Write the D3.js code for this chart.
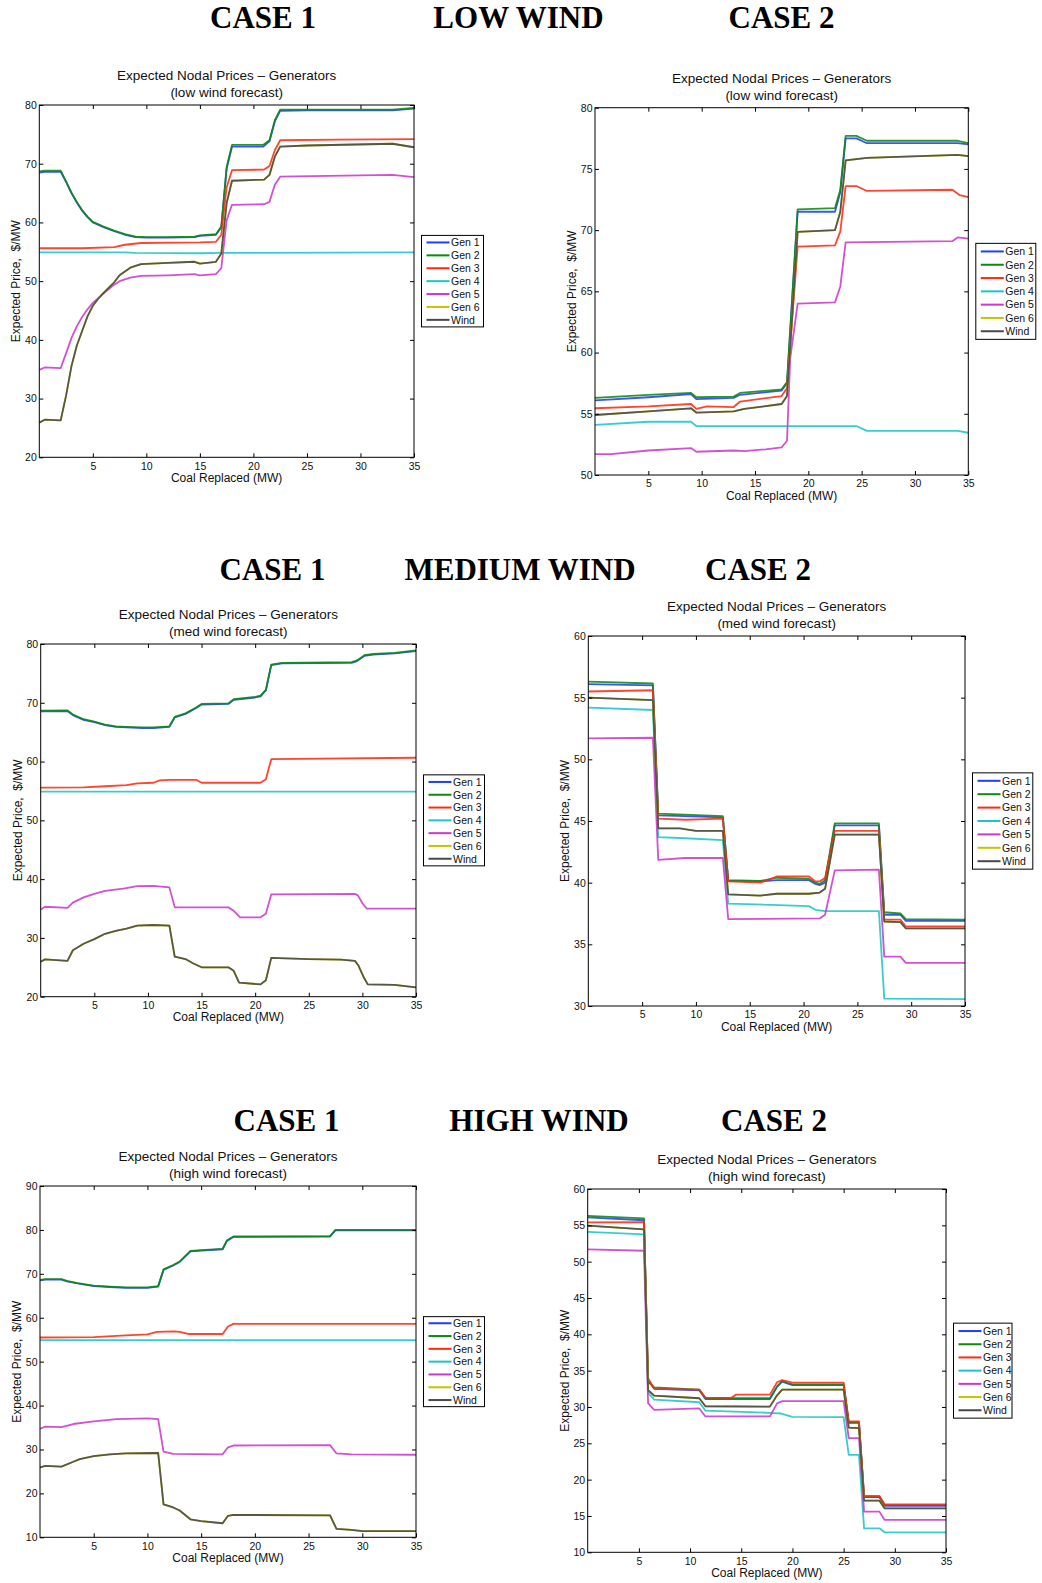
<!DOCTYPE html>
<html>
<head>
<meta charset="utf-8">
<script src="https://cdn.jsdelivr.net/npm/d3@7"></script>
<style>
  body { margin: 0; background: #fff; }
  svg { display: block; }
  text { font-family: "Liberation Sans", Arial, sans-serif; fill: #111; }
  .head { font-family: "Liberation Serif", "Times New Roman", serif; font-weight: bold; font-size: 31px; fill: #000; }
  .ptitle { font-size: 13.5px; }
  .alabel { font-size: 12px; white-space: pre; }
  .tick text { font-size: 10.5px; fill: #111; }
  .leg text { font-size: 10.5px; }
</style>
</head>
<body>
<svg id="fig" width="1042" height="1583"></svg>
<script>
// ---------- labels ----------
const seriesNames = ["Gen 1", "Gen 2", "Gen 3", "Gen 4", "Gen 5", "Gen 6", "Wind"];
const rowHeadings = [
  ["CASE 1", "LOW WIND", "CASE 2"],
  ["CASE 1", "MEDIUM WIND", "CASE 2"],
  ["CASE 1", "HIGH WIND", "CASE 2"]
];
const forecastLabels = ["(low wind forecast)", "(med wind forecast)", "(high wind forecast)"];
const xTicks = [5, 10, 15, 20, 25, 30, 35];
const yTicks20to80 = [20, 30, 40, 50, 60, 70, 80];
const yTicks50to80 = [50, 55, 60, 65, 70, 75, 80];
const yTicks30to60 = [30, 35, 40, 45, 50, 55, 60];
const yTicks10to90 = [10, 20, 30, 40, 50, 60, 70, 80, 90];
const yTicks10to60 = [10, 15, 20, 25, 30, 35, 40, 45, 50, 55, 60];

// ---------- low wind, case 1: [coal replaced MW, price $/MW] ----------
const lowC1Gen1 = [[0,68.5],[0.5,68.6],[2,68.6],[2.5,66.9],[3,65.0],[3.5,63.4],[4,62.0],[4.5,60.9],[5,60.0],[6,59.2],[7,58.5],[8,57.9],[9,57.5],[10,57.4],[12,57.4],[14.5,57.5],[15,57.7],[16.5,57.9],[17,59.2],[17.5,69.2],[18,72.9],[20.9,72.9],[21.5,73.8],[22,77.2],[22.5,79.0],[25,79.1],[33,79.1],[35,79.4]];
const lowC1Gen2 = [[0,68.7],[0.5,68.8],[2,68.8],[2.5,67.0],[3,65.1],[3.5,63.5],[4,62.1],[4.5,61.0],[5,60.1],[6,59.3],[7,58.6],[8,58.0],[9,57.6],[10,57.5],[12,57.5],[14.5,57.6],[15,57.8],[16.5,58.0],[17,59.3],[17.5,69.4],[18,73.2],[20.9,73.2],[21.5,74.0],[22,77.4],[22.5,79.2],[25,79.2],[33,79.2],[35,79.5]];
const lowC1Gen3 = [[0,55.6],[4,55.6],[7,55.8],[8,56.2],[9.5,56.5],[15,56.6],[16.5,56.7],[17,57.9],[17.5,66.0],[18,68.9],[21,69.0],[21.5,69.6],[22,72.3],[22.5,74.0],[28,74.1],[35,74.2]];
const lowC1Gen4 = [[0,54.9],[8,54.9],[9,54.8],[15,54.75],[17,54.8],[35,54.9]];
const lowC1Gen5 = [[0,34.9],[0.5,35.3],[2,35.2],[2.5,37.7],[3,40.3],[3.5,42.3],[4,43.9],[4.5,45.2],[5,46.3],[6,47.9],[7,49.4],[7.5,50.0],[8.5,50.6],[9.5,50.9],[12,51.0],[14.5,51.2],[15,51.0],[16.5,51.2],[17,52.2],[17.5,60.4],[18,63.0],[21,63.1],[21.5,63.5],[22,66.4],[22.5,67.8],[33,68.1],[35,67.7]];
const lowC1Wind = [[0,25.9],[0.5,26.4],[2,26.3],[2.5,30.5],[3,35.5],[3.5,39.0],[4,41.5],[4.5,44.0],[5,45.8],[5.5,47.0],[6,48.0],[7,49.8],[7.5,51.0],[8.5,52.3],[9.5,52.9],[12,53.1],[14.5,53.3],[15,53.0],[16.5,53.3],[17,54.7],[17.5,63.3],[18,67.1],[21,67.3],[21.5,68.1],[22,71.2],[22.5,72.9],[25,73.1],[33,73.4],[35,72.8]];
const lowC1Gen6 = lowC1Wind; // Gen 6 runs under the Wind trace

// ---------- low wind, case 2 ----------
const lowC2Gen1 = [[0,56.1],[5,56.35],[9,56.6],[9.5,56.2],[13,56.3],[13.6,56.55],[17.5,56.9],[18,57.5],[19,71.5],[22.5,71.5],[23,73.1],[23.5,77.5],[24.5,77.5],[25.5,77.1],[34,77.1],[35,77.0]];
const lowC2Gen2 = [[0,56.3],[5,56.55],[9,56.7],[9.5,56.35],[13,56.4],[13.6,56.7],[17.5,57.0],[18,57.6],[19,71.7],[22.5,71.8],[23,73.3],[23.5,77.7],[24.5,77.7],[25.5,77.3],[34,77.3],[35,77.1]];
const lowC2Gen3 = [[0,55.45],[5,55.6],[9,55.8],[9.5,55.4],[10.5,55.6],[13,55.55],[13.6,56.0],[17.5,56.45],[18,57.1],[19,68.65],[22.5,68.75],[23,69.9],[23.5,73.6],[24.5,73.6],[25.5,73.2],[33.5,73.3],[34.2,72.85],[35,72.7]];
const lowC2Gen4 = [[0,54.1],[5,54.35],[9,54.35],[9.5,54.0],[24.5,54.0],[25.5,53.6],[34,53.6],[35,53.45]];
const lowC2Gen5 = [[0,51.7],[1.5,51.7],[5,52.0],[9,52.2],[9.5,51.9],[13,52.0],[14,51.95],[16,52.1],[17.5,52.25],[18,52.8],[18.3,59.5],[19,64.0],[22.5,64.1],[23,65.4],[23.5,69.0],[33.5,69.1],[34,69.4],[35,69.3]];
const lowC2Wind = [[0,54.9],[5,55.2],[9,55.45],[9.5,55.1],[13,55.2],[14,55.4],[17.5,55.8],[18,56.45],[19,69.85],[22.5,70.0],[23,71.5],[23.5,75.7],[24.5,75.8],[25.5,75.9],[34,76.15],[35,76.05]];
const lowC2Gen6 = lowC2Wind;

// ---------- medium wind, case 1 ----------
const medC1Gen1 = [[0,68.55],[2.5,68.6],[3,67.9],[4,67.1],[5,66.7],[6,66.2],[7,65.9],[8,65.8],[9.5,65.7],[10.5,65.7],[12,65.9],[12.5,67.5],[13.5,68.1],[14.5,69.1],[15,69.7],[17.5,69.8],[18,70.5],[20,70.9],[20.5,71.1],[21,72.1],[21.5,76.4],[22.5,76.7],[29,76.8],[29.5,77.1],[30.2,78.0],[31,78.2],[33,78.4],[35,78.8]];
const medC1Gen2 = [[0,68.65],[2.5,68.7],[3,68.0],[4,67.2],[5,66.8],[6,66.3],[7,66.0],[8,65.9],[9.5,65.8],[10.5,65.8],[12,66.0],[12.5,67.6],[13.5,68.2],[14.5,69.2],[15,69.8],[17.5,69.9],[18,70.6],[20,71.0],[20.5,71.2],[21,72.2],[21.5,76.5],[22.5,76.8],[29,76.9],[29.5,77.2],[30.2,78.1],[31,78.3],[33,78.5],[35,78.9]];
const medC1Gen3 = [[0,55.55],[4,55.6],[6,55.8],[8,56.0],[9,56.3],[10.5,56.4],[11.1,56.8],[12,56.9],[14.5,56.9],[15,56.4],[20.5,56.4],[21,57.0],[21.5,60.4],[35,60.65]];
const medC1Gen4 = [[0,54.9],[35,54.9]];
const medC1Gen5 = [[0,34.85],[0.4,35.3],[2.5,35.1],[3,36.0],[4,36.9],[5,37.5],[6,38.0],[7.7,38.4],[9,38.8],[10.5,38.85],[12,38.6],[12.5,35.2],[17.5,35.2],[18,34.6],[18.6,33.5],[20.5,33.5],[21,34.1],[21.5,37.4],[29.3,37.5],[29.6,37.2],[30,35.9],[30.4,35.0],[35,35.0]];
const medC1Wind = [[0,25.95],[0.4,26.35],[2.5,26.1],[3,27.9],[4,29.0],[5,29.8],[6,30.7],[7,31.2],[8,31.6],[9,32.1],[10.5,32.2],[12,32.1],[12.5,26.8],[13.5,26.4],[14.2,25.7],[15,25.0],[17.5,25.0],[18,24.4],[18.5,22.4],[20.5,22.1],[21,22.8],[21.5,26.6],[25,26.4],[28,26.3],[29.3,26.1],[29.6,25.4],[30.1,23.4],[30.5,22.1],[33,22.0],[35,21.6]];
const medC1Gen6 = medC1Wind;

// ---------- medium wind, case 2 ----------
const medC2Gen1 = [[0,56.1],[6,56.0],[6.5,45.45],[9,45.4],[12.5,45.3],[13,40.15],[16,40.1],[17.5,40.2],[20.5,40.2],[21.1,39.9],[21.5,39.8],[22,40.0],[22.9,44.65],[27,44.65],[27.5,37.4],[29,37.4],[29.5,36.9],[35,36.9]];
const medC2Gen2 = [[0,56.3],[6,56.15],[6.5,45.6],[12.5,45.4],[13,40.2],[16,40.15],[17,40.3],[17.5,40.4],[20.5,40.3],[21.1,40.0],[21.5,39.9],[22,40.2],[22.9,44.8],[27,44.8],[27.5,37.6],[29,37.5],[29.5,37.05],[35,37.0]];
const medC2Gen3 = [[0,55.5],[6,55.6],[6.5,45.2],[9,45.1],[12.5,45.2],[13,40.1],[16,40.0],[17.5,40.5],[20.5,40.5],[21.1,40.1],[21.5,40.1],[22,40.4],[22.9,44.2],[27,44.2],[27.5,37.0],[29,37.0],[29.5,36.45],[35,36.45]];
const medC2Gen4 = [[0,54.2],[6,54.0],[6.5,43.7],[9,43.6],[12.5,43.45],[13,38.3],[17,38.2],[20.5,38.1],[21.1,37.8],[22,37.7],[27,37.7],[27.5,30.6],[35,30.55]];
const medC2Gen5 = [[0,51.7],[6,51.75],[6.5,41.85],[9,42.0],[12.5,42.0],[13,37.05],[21.5,37.1],[22,37.4],[22.9,41.0],[27,41.05],[27.5,34.0],[29,34.0],[29.5,33.5],[35,33.5]];
const medC2Wind = [[0,55.0],[6,54.8],[6.5,44.4],[8.5,44.4],[10,44.2],[12.5,44.2],[13,39.05],[16,38.95],[17.5,39.1],[20.5,39.1],[21.5,39.2],[22,39.5],[22.9,43.9],[27,43.9],[27.5,36.85],[29,36.8],[29.5,36.3],[35,36.3]];
const medC2Gen6 = medC2Wind;

// ---------- high wind, case 1 ----------
const highC1Gen1 = [[0,68.5],[0.5,68.7],[2,68.7],[2.5,68.3],[3.5,67.8],[5,67.2],[6.5,67.0],[8,66.8],[10,66.8],[11,67.1],[11.5,70.9],[12.4,71.9],[13,72.7],[14,75.1],[15,75.3],[17,75.6],[17.4,77.5],[18,78.4],[27,78.5],[27.5,79.9],[35,79.9]];
const highC1Gen2 = [[0,68.6],[0.5,68.8],[2,68.8],[2.5,68.4],[3.5,67.9],[5,67.3],[6.5,67.1],[8,66.9],[10,66.9],[11,67.2],[11.5,71.0],[12.4,72.0],[13,72.8],[14,75.2],[15,75.4],[17,75.7],[17.4,77.6],[18,78.5],[27,78.6],[27.5,80.0],[35,80.0]];
const highC1Gen3 = [[0,55.5],[5,55.6],[8,56.0],[10,56.2],[10.9,56.8],[12.5,56.9],[13,56.8],[13.8,56.3],[17,56.3],[17.5,58.0],[18,58.6],[35,58.6]];
const highC1Gen4 = [[0,54.9],[35,54.9]];
const highC1Gen5 = [[0,34.75],[0.5,35.2],[2,35.1],[3.1,35.8],[5,36.4],[7.1,36.9],[10,37.1],[11,36.9],[11.5,29.5],[12.4,29.0],[17,28.9],[17.5,30.5],[18,30.9],[27,31.0],[27.6,29.1],[29,28.9],[35,28.8]];
const highC1Wind = [[0,25.9],[0.5,26.25],[2,26.1],[3.1,27.2],[3.7,27.8],[5,28.5],[6.5,28.9],[8,29.1],[11,29.2],[11.5,17.5],[12.4,16.8],[13,16.1],[14,14.1],[15,13.7],[17,13.2],[17.5,14.9],[18,15.1],[27,15.0],[27.6,11.9],[29,11.7],[30,11.4],[35,11.4]];
const highC1Gen6 = highC1Wind;

// ---------- high wind, case 2 ----------
const highC2Gen1 = [[0,56.1],[5.5,55.7],[5.9,33.6],[6.5,32.5],[10.9,32.3],[11.5,31.1],[17.8,31.1],[18.5,32.8],[19,33.5],[20,33.0],[25,33.0],[25.5,27.8],[26.5,27.8],[27,17.6],[28.5,17.6],[29,16.4],[35,16.4]];
const highC2Gen2 = [[0,56.3],[5.5,55.95],[5.9,33.5],[6.5,32.7],[10.9,32.4],[11.5,31.2],[17.8,31.2],[18.5,32.8],[19,33.6],[19.6,33.25],[20,33.1],[25,33.1],[25.5,27.9],[26.5,27.9],[27,17.65],[28.5,17.6],[29,16.5],[35,16.5]];
const highC2Gen3 = [[0,55.4],[5.5,55.45],[5.9,33.95],[6.5,32.5],[10.9,32.4],[11.5,31.3],[14,31.25],[14.5,31.7],[17.8,31.7],[18.5,33.4],[19,33.7],[20,33.35],[25,33.35],[25.5,28.0],[26.5,28.0],[27,17.75],[28.5,17.75],[29,16.6],[35,16.6]];
const highC2Gen4 = [[0,54.1],[5.5,53.75],[5.9,31.9],[6.5,31.0],[10.9,30.65],[11.5,29.5],[17.8,29.2],[18.9,29.1],[20,28.65],[25,28.6],[25.5,23.4],[26.5,23.4],[27,13.3],[28.5,13.3],[29,12.75],[35,12.75]];
const highC2Gen5 = [[0,51.7],[5.5,51.5],[5.9,30.5],[6.5,29.6],[10.9,29.8],[11.5,28.7],[17.8,28.7],[18.5,30.5],[19,30.8],[25,30.8],[25.5,25.7],[26.5,25.7],[27,15.6],[28.5,15.6],[29,14.45],[35,14.45]];
const highC2Wind = [[0,54.95],[5.5,54.45],[5.9,32.3],[6.5,31.55],[10.9,31.2],[11.5,30.1],[17.8,30.05],[18.5,31.6],[19,32.4],[25,32.4],[25.5,27.15],[26.5,27.1],[27,17.1],[28.5,17.1],[29,16.05],[35,16.05]];
const highC2Gen6 = highC2Wind;

// ---------- styling ----------
const seriesColors = ["#1f3cff", "#0b8a0b", "#ff2a12", "#1cc6c6", "#cc38cc", "#c4c400", "#484848"];

// panel layout: plot-area edges [left, top, right, bottom]
const panels = [
  { area: [39.3, 105, 414, 457.3],  yDomain: [20, 80], yTicks: yTicks20to80, forecast: 0,
    series: [lowC1Gen1, lowC1Gen2, lowC1Gen3, lowC1Gen4, lowC1Gen5, lowC1Gen6, lowC1Wind], leg: { rowH: 12.9, h: 91.5, w: 62 } },
  { area: [595, 107.7, 968.3, 475],  yDomain: [50, 80], yTicks: yTicks50to80, forecast: 0,
    series: [lowC2Gen1, lowC2Gen2, lowC2Gen3, lowC2Gen4, lowC2Gen5, lowC2Gen6, lowC2Wind], leg: { rowH: 13.3, h: 96, w: 60 } },
  { area: [40.7, 644, 416, 996.7],   yDomain: [20, 80], yTicks: yTicks20to80, forecast: 1,
    series: [medC1Gen1, medC1Gen2, medC1Gen3, medC1Gen4, medC1Gen5, medC1Gen6, medC1Wind], leg: { rowH: 12.8, h: 91, w: 61 } },
  { area: [588.3, 636, 965, 1006],   yDomain: [30, 60], yTicks: yTicks30to60, forecast: 1,
    series: [medC2Gen1, medC2Gen2, medC2Gen3, medC2Gen4, medC2Gen5, medC2Gen6, medC2Wind], leg: { rowH: 13.4, h: 96.3, w: 60.3 } },
  { area: [40, 1186, 416, 1537.3],   yDomain: [10, 90], yTicks: yTicks10to90, forecast: 2,
    series: [highC1Gen1, highC1Gen2, highC1Gen3, highC1Gen4, highC1Gen5, highC1Gen6, highC1Wind], leg: { rowH: 12.8, h: 90, w: 61 } },
  { area: [587.7, 1189, 946, 1552.3], yDomain: [10, 60], yTicks: yTicks10to60, forecast: 2,
    series: [highC2Gen1, highC2Gen2, highC2Gen3, highC2Gen4, highC2Gen5, highC2Gen6, highC2Wind], leg: { rowH: 13.2, h: 95, w: 58.5 } }
];

// row headings: [centre x, baseline y]
const headingPos = [
  [[263, 28], [518.5, 28], [781.5, 28]],
  [[272.5, 580], [520, 580], [758, 580]],
  [[286.5, 1131], [539, 1131], [774, 1131]]
];

const svg = d3.select("#fig");

rowHeadings.forEach((row, r) => {
  row.forEach((label, c) => {
    svg.append("text").attr("class", "head")
      .attr("x", headingPos[r][c][0]).attr("y", headingPos[r][c][1])
      .attr("text-anchor", "middle").text(label);
  });
});

panels.forEach((p, idx) => {
  const [L, T, R, B] = p.area;
  const x = d3.scaleLinear().domain([0, 35]).range([L, R]);
  const y = d3.scaleLinear().domain(p.yDomain).range([B, T]);
  const g = svg.append("g");

  g.append("rect").attr("x", L).attr("y", T).attr("width", R - L).attr("height", B - T).attr("fill", "#fff");

  const clipId = "clip" + idx;
  g.append("clipPath").attr("id", clipId)
    .append("rect").attr("x", L).attr("y", T).attr("width", R - L).attr("height", B - T);

  const line = d3.line().x(d => x(d[0])).y(d => y(d[1]));
  const lines = g.append("g").attr("clip-path", `url(#${clipId})`);
  p.series.forEach((pts, i) => {
    lines.append("path").datum(pts)
      .attr("d", line)
      .attr("fill", "none")
      .attr("stroke", seriesColors[i])
      .attr("stroke-width", 1.8)
      .attr("stroke-opacity", 0.88)
      .attr("stroke-linejoin", "round");
  });

  // axes with inward ticks on all four sides
  const tick = 4;
  const bottom = g.append("g").attr("transform", `translate(0,${B})`)
    .call(d3.axisBottom(x).tickValues(xTicks).tickSize(-tick).tickPadding(5));
  const top = g.append("g").attr("transform", `translate(0,${T})`)
    .call(d3.axisTop(x).tickValues(xTicks).tickSize(-tick).tickFormat(""));
  const left = g.append("g").attr("transform", `translate(${L},0)`)
    .call(d3.axisLeft(y).tickValues(p.yTicks).tickSize(-tick).tickPadding(2.5));
  const right = g.append("g").attr("transform", `translate(${R},0)`)
    .call(d3.axisRight(y).tickValues(p.yTicks).tickSize(-tick).tickFormat(""));
  [bottom, top, left, right].forEach(a => {
    a.select(".domain").remove();
    a.selectAll("text").attr("font-family", null).attr("font-size", null);
    a.attr("font-family", null).attr("font-size", null);
  });
  // the top/right tick marks at the frame corners are hidden by the frame itself
  g.append("rect").attr("x", L).attr("y", T).attr("width", R - L).attr("height", B - T)
    .attr("fill", "none").attr("stroke", "#000").attr("stroke-width", 1);

  // titles
  const cx = (L + R) / 2;
  g.append("text").attr("class", "ptitle").attr("x", cx).attr("y", T - 25)
    .attr("text-anchor", "middle").text("Expected Nodal Prices \u2013 Generators");
  g.append("text").attr("class", "ptitle").attr("x", cx).attr("y", T - 8)
    .attr("text-anchor", "middle").text(forecastLabels[p.forecast]);

  g.append("text").attr("class", "alabel").attr("x", cx).attr("y", B + 24.5)
    .attr("text-anchor", "middle").text("Coal Replaced (MW)");
  g.append("text").attr("class", "alabel")
    .attr("transform", `translate(${L - 19},${(T + B) / 2}) rotate(-90)`)
    .attr("text-anchor", "middle").text("Expected Price,  $/MW");

  // legend
  const lg = p.leg;
  const bx = R + 7.5;
  const by = (T + B) / 2 - lg.h / 2;
  const leg = g.append("g").attr("class", "leg");
  leg.append("rect").attr("x", bx).attr("y", by).attr("width", lg.w).attr("height", lg.h)
    .attr("fill", "#fff").attr("stroke", "#000").attr("stroke-width", 1);
  const first = by + (lg.h - 6 * lg.rowH) / 2;
  seriesNames.forEach((name, i) => {
    const cy = first + i * lg.rowH;
    leg.append("line").attr("x1", bx + 5).attr("x2", bx + 28).attr("y1", cy).attr("y2", cy)
      .attr("stroke", seriesColors[i]).attr("stroke-width", 2);
    leg.append("text").attr("x", bx + 29.5).attr("y", cy).attr("dy", "0.36em").text(name);
  });
});
</script>
</body>
</html>
